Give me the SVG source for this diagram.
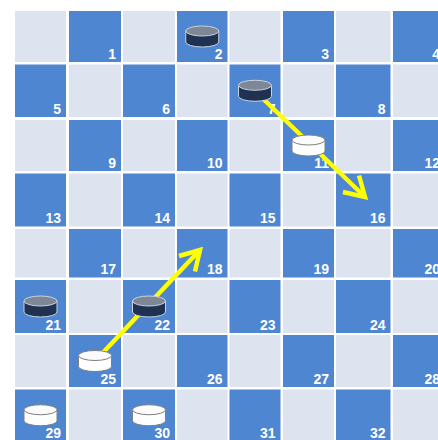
<svg xmlns="http://www.w3.org/2000/svg" xmlns:xlink="http://www.w3.org/1999/xlink" width="438" height="440" viewBox="0 0 438 440">
<style>
.l{fill:#dde4ef}
.d{fill:#4e86d2}
.n{font-family:"Liberation Sans",Arial,sans-serif;font-weight:bold;font-size:14px;fill:#ffffff;text-anchor:end}
.arr{fill:none;stroke:#ffff00;stroke-width:4.5;stroke-linecap:butt;stroke-linejoin:miter}
</style>
<defs>
<g id="dp">
<path d="M-16.5,-5.5 V5.5 A16.5,5 0 0 0 16.5,5.5 V-5.5 Z" fill="#1f3252" stroke="#c9d2e0" stroke-width="1"/>
<ellipse cx="0" cy="-5.5" rx="16.5" ry="5" fill="#7e8796" stroke="#c9d2e0" stroke-width="1"/>
</g>
<g id="wp">
<path d="M-16.5,-5.5 V5.5 A16.5,5 0 0 0 16.5,5.5 V-5.5 Z" fill="#ffffff" stroke="#7f7f7f" stroke-width="1"/>
<ellipse cx="0" cy="-5.5" rx="16.5" ry="5" fill="#fbfbfb" stroke="#7f7f7f" stroke-width="1"/>
</g>
</defs>
<rect x="0" y="0" width="438" height="440" fill="#ffffff"/>
<g id="board">
<!-- row 0 -->
<rect class="l" x="15" y="11" width="51" height="51"/>
<rect class="d" x="69" y="11" width="52" height="51"/>
<rect class="l" x="123" y="11" width="52" height="51"/>
<rect class="d" x="177" y="11" width="50.5" height="51"/>
<rect class="l" x="229.5" y="11" width="51" height="51"/>
<rect class="d" x="283" y="11" width="51" height="51"/>
<rect class="l" x="336" y="11" width="54.5" height="51"/>
<rect class="d" x="393" y="11" width="52" height="51"/>
<!-- row 1 -->
<rect class="d" x="15" y="64.5" width="51" height="52.5"/>
<rect class="l" x="69" y="64.5" width="52" height="52.5"/>
<rect class="d" x="123" y="64.5" width="52" height="52.5"/>
<rect class="l" x="177" y="64.5" width="50.5" height="52.5"/>
<rect class="d" x="229.5" y="64.5" width="51" height="52.5"/>
<rect class="l" x="283" y="64.5" width="51" height="52.5"/>
<rect class="d" x="336" y="64.5" width="54.5" height="52.5"/>
<rect class="l" x="393" y="64.5" width="52" height="52.5"/>
<!-- row 2 -->
<rect class="l" x="15" y="120" width="51" height="51"/>
<rect class="d" x="69" y="120" width="52" height="51"/>
<rect class="l" x="123" y="120" width="52" height="51"/>
<rect class="d" x="177" y="120" width="50.5" height="51"/>
<rect class="l" x="229.5" y="120" width="51" height="51"/>
<rect class="d" x="283" y="120" width="51" height="51"/>
<rect class="l" x="336" y="120" width="54.5" height="51"/>
<rect class="d" x="393" y="120" width="52" height="51"/>
<!-- row 3 -->
<rect class="d" x="15" y="173.5" width="51" height="53"/>
<rect class="l" x="69" y="173.5" width="52" height="53"/>
<rect class="d" x="123" y="173.5" width="52" height="53"/>
<rect class="l" x="177" y="173.5" width="50.5" height="53"/>
<rect class="d" x="229.5" y="173.5" width="51" height="53"/>
<rect class="l" x="283" y="173.5" width="51" height="53"/>
<rect class="d" x="336" y="173.5" width="54.5" height="53"/>
<rect class="l" x="393" y="173.5" width="52" height="53"/>
<!-- row 4 -->
<rect class="l" x="15" y="229" width="51" height="48.5"/>
<rect class="d" x="69" y="229" width="52" height="48.5"/>
<rect class="l" x="123" y="229" width="52" height="48.5"/>
<rect class="d" x="177" y="229" width="50.5" height="48.5"/>
<rect class="l" x="229.5" y="229" width="51" height="48.5"/>
<rect class="d" x="283" y="229" width="51" height="48.5"/>
<rect class="l" x="336" y="229" width="54.5" height="48.5"/>
<rect class="d" x="393" y="229" width="52" height="48.5"/>
<!-- row 5 -->
<rect class="d" x="15" y="280" width="51" height="53"/>
<rect class="l" x="69" y="280" width="52" height="53"/>
<rect class="d" x="123" y="280" width="52" height="53"/>
<rect class="l" x="177" y="280" width="50.5" height="53"/>
<rect class="d" x="229.5" y="280" width="51" height="53"/>
<rect class="l" x="283" y="280" width="51" height="53"/>
<rect class="d" x="336" y="280" width="54.5" height="53"/>
<rect class="l" x="393" y="280" width="52" height="53"/>
<!-- row 6 -->
<rect class="l" x="15" y="335" width="51" height="52"/>
<rect class="d" x="69" y="335" width="52" height="52"/>
<rect class="l" x="123" y="335" width="52" height="52"/>
<rect class="d" x="177" y="335" width="50.5" height="52"/>
<rect class="l" x="229.5" y="335" width="51" height="52"/>
<rect class="d" x="283" y="335" width="51" height="52"/>
<rect class="l" x="336" y="335" width="54.5" height="52"/>
<rect class="d" x="393" y="335" width="52" height="52"/>
<!-- row 7 -->
<rect class="d" x="15" y="389.5" width="51" height="52"/>
<rect class="l" x="69" y="389.5" width="52" height="52"/>
<rect class="d" x="123" y="389.5" width="52" height="52"/>
<rect class="l" x="177" y="389.5" width="50.5" height="52"/>
<rect class="d" x="229.5" y="389.5" width="51" height="52"/>
<rect class="l" x="283" y="389.5" width="51" height="52"/>
<rect class="d" x="336" y="389.5" width="54.5" height="52"/>
<rect class="l" x="393" y="389.5" width="52" height="52"/>
</g>
<g id="numbers">
<text class="n" x="116" y="58.5">1</text>
<text class="n" x="222.5" y="58.5">2</text>
<text class="n" x="329" y="58.5">3</text>
<text class="n" x="440" y="58.5">4</text>
<text class="n" x="61" y="113.5">5</text>
<text class="n" x="170" y="113.5">6</text>
<text class="n" x="275.5" y="113.5">7</text>
<text class="n" x="385.5" y="113.5">8</text>
<text class="n" x="116" y="167.5">9</text>
<text class="n" x="222.5" y="167.5">10</text>
<text class="n" x="329" y="167.5">11</text>
<text class="n" x="440" y="167.5">12</text>
<text class="n" x="61" y="223">13</text>
<text class="n" x="170" y="223">14</text>
<text class="n" x="275.5" y="223">15</text>
<text class="n" x="385.5" y="223">16</text>
<text class="n" x="116" y="274">17</text>
<text class="n" x="222.5" y="274">18</text>
<text class="n" x="329" y="274">19</text>
<text class="n" x="440" y="274">20</text>
<text class="n" x="61" y="329.5">21</text>
<text class="n" x="170" y="329.5">22</text>
<text class="n" x="275.5" y="329.5">23</text>
<text class="n" x="385.5" y="329.5">24</text>
<text class="n" x="116" y="383.5">25</text>
<text class="n" x="222.5" y="383.5">26</text>
<text class="n" x="329" y="383.5">27</text>
<text class="n" x="440" y="383.5">28</text>
<text class="n" x="61" y="438">29</text>
<text class="n" x="170" y="438">30</text>
<text class="n" x="275.5" y="438">31</text>
<text class="n" x="385.5" y="438">32</text>
</g>
<g id="connectors">
<line class="arr" x1="255" y1="91" x2="364" y2="196"/>
<polyline class="arr" points="343,192 365,197 359,175.5"/>
<line class="arr" x1="95" y1="361" x2="199" y2="251"/>
<polyline class="arr" points="179,256 200,250 195,271.5"/>
</g>
<g id="piece-2"><use xlink:href="#dp" href="#dp" x="202.25" y="36.5"/></g>
<g id="piece-7"><use xlink:href="#dp" href="#dp" x="255" y="90.75"/></g>
<g id="piece-11"><use xlink:href="#wp" href="#wp" x="308.5" y="145.5"/></g>
<g id="piece-21"><use xlink:href="#dp" href="#dp" x="40.5" y="306.5"/></g>
<g id="piece-22"><use xlink:href="#dp" href="#dp" x="149" y="306.5"/></g>
<g id="piece-25"><use xlink:href="#wp" href="#wp" x="95" y="361"/></g>
<g id="piece-29"><use xlink:href="#wp" href="#wp" x="40.5" y="415.25"/></g>
<g id="piece-30"><use xlink:href="#wp" href="#wp" x="149" y="415.25"/></g>
</svg>
